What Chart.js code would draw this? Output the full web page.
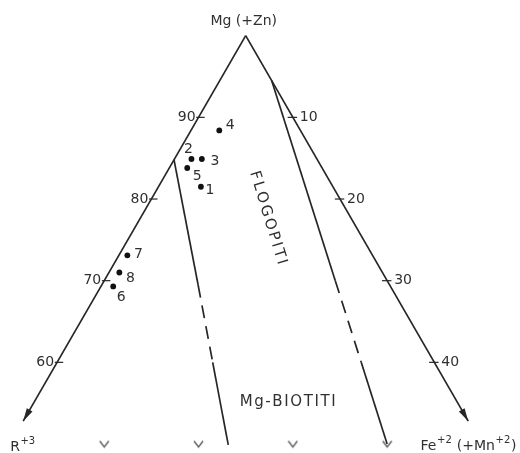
<!DOCTYPE html>
<html>
<head>
<meta charset="utf-8">
<script src="https://cdn.jsdelivr.net/npm/chart.js@4/dist/chart.umd.min.js"></script>
<style>
  html, body { margin: 0; padding: 0; background: #fff; }
  #wrap { width: 520px; height: 453px; position: relative; }
</style>
</head>
<body>
<div id="wrap"><canvas id="c"></canvas></div>
<script>
// Analysed micas, atomic proportions in per cent: Mg(+Zn), R+3, Fe+2(+Mn+2)
const sampleIds = ['1', '2', '3', '4', '5', '6', '7', '8'];
const sampleMg  = [81.5, 84.9, 84.9, 88.4, 83.8, 69.3, 73.1, 71.0];
const sampleR3  = [14.0, 13.3, 12.2,  8.6, 14.3, 29.4, 26.0, 27.9];
const sampleFe  = [ 4.5,  1.8,  2.9,  3.0,  1.9,  1.3,  0.9,  1.1];

// Graduations
const mgTicks = [90, 80, 70, 60];        // Mg–R+3 side
const feTicks = [10, 20, 30, 40];        // Mg–Fe+2 side
const baseFeTicks = [10, 20, 30, 40];    // marks along the Mg = 50 line
const baseMg = 50;

// Triangle sides (Mg, R3, Fe), drawn from the Mg corner down to the arrows
const sideR3 = [[100, 0, 0], [52.8, 47.2, 0]];
const sideFe = [[100, 0, 0], [52.8, 0, 47.2]];

// Phlogopite / Mg-biotite boundaries (solid – dashed – solid)
const leftBoundSolidA  = [[84.8, 15.2, 0], [69.5, 20.3, 10.2]];
const leftBoundDashed  = [[69.5, 20.3, 10.2], [60.0, 23.5, 16.5]];
const leftBoundSolidB  = [[60.0, 23.5, 16.5], [49.9, 26.9, 23.2]];
const rightBoundSolidA = [[94.5, 0, 5.5], [70.0, 5.5, 24.5]];
const rightBoundDashed = [[70.0, 5.5, 24.5], [60.0, 7.75, 32.25]];
const rightBoundSolidB = [[60.0, 7.75, 32.25], [50.0, 10.0, 40.0]];

// Field names placed inside the diagram (Mg, R3, Fe)
const fieldFlog = [77.7, 8.8, 13.5];
const fieldBiot = [55.1, 18.0, 26.9];

// Ternary -> plane: x = Fe + Mg/2, y = Mg (y scale stretched by sqrt(3)/2 through the axis ranges)
const toXY = (mg, r3, fe) => ({ x: fe + mg / 2, y: mg });
const seg = pts => pts.map(p => toXY(p[0], p[1], p[2]));

const INK = '#262626';
const TXT = '#303030';
const FONT = '"DejaVu Sans", sans-serif';

// small "v" marker used along the Mg = 50 line
function vMark() {
  const cv = document.createElement('canvas');
  cv.width = 11; cv.height = 9;
  const g = cv.getContext('2d');
  g.strokeStyle = '#555'; g.lineWidth = 1.3;
  g.beginPath(); g.moveTo(1, 1.5); g.lineTo(5.5, 7.5); g.lineTo(10, 1.5); g.stroke();
  return cv;
}

function lineSet(pts, dashed) {
  return {
    type: 'scatter', data: seg(pts), showLine: true, borderColor: INK, borderWidth: 1.7,
    borderDash: dashed ? [13, 8] : [], pointRadius: 0, fill: false, tension: 0
  };
}

// short horizontal graduation strokes
function tickSets() {
  const out = [];
  mgTicks.forEach(v => {
    const p = toXY(v, 100 - v, 0);
    out.push({ type: 'scatter', data: [{ x: p.x - 0.25, y: p.y }, { x: p.x + 0.65, y: p.y }],
      showLine: true, borderColor: INK, borderWidth: 1.2, pointRadius: 0 });
  });
  feTicks.forEach(v => {
    const p = toXY(100 - v, 0, v);
    out.push({ type: 'scatter', data: [{ x: p.x - 0.55, y: p.y }, { x: p.x + 0.45, y: p.y }],
      showLine: true, borderColor: INK, borderWidth: 1.2, pointRadius: 0 });
  });
  return out;
}

const datasets = [
  lineSet(sideR3, false),
  lineSet(sideFe, false),
  lineSet(leftBoundSolidA, false), lineSet(leftBoundDashed, true), lineSet(leftBoundSolidB, false),
  lineSet(rightBoundSolidA, false), lineSet(rightBoundDashed, true), lineSet(rightBoundSolidB, false),
  ...tickSets(),
  {
    type: 'scatter',
    data: baseFeTicks.map(fe => toXY(baseMg, 100 - baseMg - fe, fe)),
    pointStyle: vMark(), pointRadius: 5, showLine: false
  },
  {
    type: 'scatter', label: 'campioni',
    data: sampleIds.map((id, i) => toXY(sampleMg[i], sampleR3[i], sampleFe[i])),
    pointRadius: 2.9, pointBackgroundColor: '#111', pointBorderWidth: 0, showLine: false
  }
];

// label offsets next to each sample dot (px)
const idOffset = { '1': [9, 4], '2': [-3, -10], '3': [13, 2], '4': [11, -5],
                   '5': [10, 8], '6': [8, 11], '7': [11, -1], '8': [11, 6] };

function drawRuns(ctx, runs, x, y, size) {
  // runs: [text, isSuperscript]
  let cx = x;
  runs.forEach(([t, sup]) => {
    ctx.font = (sup ? Math.round(size * 0.7) : size) + 'px ' + FONT;
    ctx.fillText(t, cx, sup ? y - size * 0.42 : y);
    cx += ctx.measureText(t).width + 0.6;
  });
}
function runsWidth(ctx, runs, size) {
  let w = 0;
  runs.forEach(([t, sup]) => {
    ctx.font = (sup ? Math.round(size * 0.7) : size) + 'px ' + FONT;
    w += ctx.measureText(t).width + 0.6;
  });
  return w;
}
function spaced(ctx, text, x, y, spacing) {
  let w = 0;
  for (const ch of text) w += ctx.measureText(ch).width;
  w += spacing * (text.length - 1);
  let cx = x - w / 2;
  ctx.textAlign = 'left';
  for (const ch of text) { ctx.fillText(ch, cx, y); cx += ctx.measureText(ch).width + spacing; }
}

const arrowsAndText = {
  id: 'arrowsAndText',
  afterDatasetsDraw(chart) {
    const ctx = chart.ctx, sx = chart.scales.x, sy = chart.scales.y;
    const px = (mg, r3, fe) => { const p = toXY(mg, r3, fe); return [sx.getPixelForValue(p.x), sy.getPixelForValue(p.y)]; };
    ctx.save();

    // arrow heads at the ends of both sides
    [sideR3, sideFe].forEach(side => {
      const a = px(...side[0]), b = px(...side[1]);
      const ang = Math.atan2(b[1] - a[1], b[0] - a[0]);
      const L = 13, W = 3.3;
      ctx.fillStyle = INK;
      ctx.beginPath();
      ctx.moveTo(b[0], b[1]);
      ctx.lineTo(b[0] - L * Math.cos(ang) + W * Math.sin(ang), b[1] - L * Math.sin(ang) - W * Math.cos(ang));
      ctx.lineTo(b[0] - L * Math.cos(ang) - W * Math.sin(ang), b[1] - L * Math.sin(ang) + W * Math.cos(ang));
      ctx.closePath(); ctx.fill();
    });

    ctx.fillStyle = TXT;
    ctx.textBaseline = 'middle';
    ctx.font = '14px ' + FONT;

    // graduation numbers
    ctx.textAlign = 'right';
    mgTicks.forEach(v => { const p = px(v, 100 - v, 0); ctx.fillText(String(v), p[0] - 3, p[1]); });
    ctx.textAlign = 'left';
    feTicks.forEach(v => { const p = px(100 - v, 0, v); ctx.fillText(String(v), p[0] + 7, p[1]); });

    // sample numbers
    ctx.textAlign = 'center';
    sampleIds.forEach((id, i) => {
      const p = px(sampleMg[i], sampleR3[i], sampleFe[i]);
      const o = idOffset[id];
      ctx.fillText(id, p[0] + o[0], p[1] + o[1]);
    });

    // corners
    const top = px(100, 0, 0);
    ctx.textAlign = 'center';
    ctx.font = '14px ' + FONT;
    ctx.fillText('Mg (+Zn)', top[0] - 2, top[1] - 14);

    ctx.textAlign = 'left';
    const lEnd = px(...sideR3[1]);
    drawRuns(ctx, [['R', false], ['+3', true]], lEnd[0] - 13, lEnd[1] + 26, 14);
    const rEnd = px(...sideFe[1]);
    const feRuns = [['Fe', false], ['+2', true], [' (+Mn', false], ['+2', true], [')', false]];
    const fw = runsWidth(ctx, feRuns, 14);
    drawRuns(ctx, feRuns, 517 - fw, rEnd[1] + 25, 14);

    // field names
    ctx.font = '15px ' + FONT;
    const b = px(...fieldBiot);
    spaced(ctx, 'Mg-BIOTITI', b[0], b[1], 1.6);
    const f = px(...fieldFlog);
    ctx.save();
    ctx.translate(f[0], f[1]);
    ctx.rotate(73 * Math.PI / 180);
    spaced(ctx, 'FLOGOPITI', 0, 0, 2.2);
    ctx.restore();

    ctx.restore();
  }
};

new Chart(document.getElementById('c'), {
  type: 'scatter',
  data: { datasets },
  options: {
    responsive: true,
    maintainAspectRatio: false,
    animation: false,
    events: [],
    layout: { padding: 0, autoPadding: false },
    scales: {
      x: { type: 'linear', display: false, min: 23.945, max: 79.088 },
      y: { type: 'linear', display: false, min: 48.90, max: 104.37 }
    },
    plugins: { legend: { display: false }, tooltip: { enabled: false } }
  },
  plugins: [arrowsAndText]
});
</script>
</body>
</html>
